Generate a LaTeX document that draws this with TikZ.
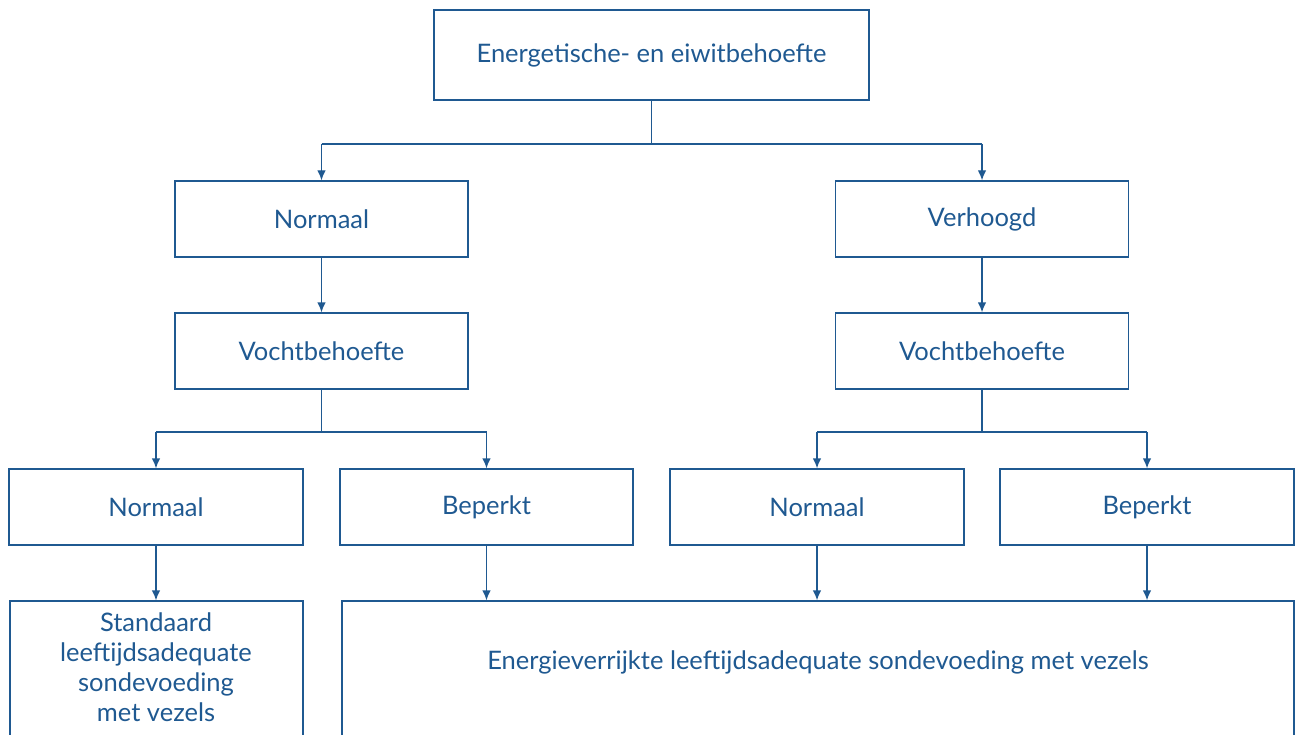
\documentclass[tikz,border=0pt]{standalone}
\usepackage{fontspec}
\setmainfont{Lato}
\usetikzlibrary{arrows.meta,positioning}
\definecolor{dblue}{RGB}{31,89,145}
\begin{document}
\begin{tikzpicture}[x=1pt,y=-1pt,
  box/.style={draw=dblue,line width=1.3pt,rectangle,inner sep=0pt,minimum width=293pt,minimum height=76pt,text=dblue,font=\fontsize{25.5}{30}\selectfont,align=center},
  txt/.style={text=dblue,font=\fontsize{25.5}{30}\selectfont,align=center,inner sep=0pt},
  conn/.style={draw=dblue,line width=1.3pt},
  arr/.style={conn,-{Latex[length=10pt,width=8.5pt]}}]
\useasboundingbox (0,0) rectangle (1295,735);
\node[box,minimum width=435pt,minimum height=90pt] (top) at (651.5,55) {Energetische- en eiwitbehoefte};
\node[box] (n1) at (321.5,219) {Normaal};
\node[box] (v1) at (982,219) {Verhoogd};
\node[box] (vl) at (321.5,351) {Vochtbehoefte};
\node[box] (vr) at (982,351) {Vochtbehoefte};
\node[box,minimum width=294pt] (a) at (156,507) {Normaal};
\node[box] (b) at (486.5,507) {Beperkt};
\node[box,minimum width=294pt] (c) at (817,507) {Normaal};
\node[box,minimum width=294pt] (d) at (1147,507) {Beperkt};
\node[box,minimum width=293pt,minimum height=160pt] (s) at (156.5,681) {};
\node[txt] (st) at (156,667) {Standaard\\leeftijdsadequate\\sondevoeding\\met vezels};
\node[box,minimum width=952pt,minimum height=160pt] (e) at (818,681) {};
\node[txt] (et) at (818,662) {Energieverrijkte leeftijdsadequate sondevoeding met vezels};
% connectors
\coordinate (t1) at (651.5,144);
\coordinate (tl) at (321.5,144);
\coordinate (tr) at (982,144);
\draw[conn] (top.south) -- (t1);
\draw[conn] (tl) -- (tr);
\draw[arr] (tl) -- (n1.north);
\draw[arr] (tr) -- (v1.north);
\draw[arr] (n1.south) -- (vl.north);
\draw[arr] (v1.south) -- (vr.north);
\coordinate (l1) at (321.5,432);
\coordinate (la) at (156,432);
\coordinate (lb) at (486.5,432);
\draw[conn] (vl.south) -- (l1);
\draw[conn] (la) -- (lb);
\draw[arr] (la) -- (a.north);
\draw[arr] (lb) -- (b.north);
\coordinate (r1) at (982,432);
\coordinate (rc) at (817,432);
\coordinate (rd) at (1147,432);
\draw[conn] (vr.south) -- (r1);
\draw[conn] (rc) -- (rd);
\draw[arr] (rc) -- (c.north);
\draw[arr] (rd) -- (d.north);
\draw[arr] (a.south) -- (a.south |- s.north);
\draw[arr] (b.south) -- (b.south |- e.north);
\draw[arr] (c.south) -- (c.south |- e.north);
\draw[arr] (d.south) -- (d.south |- e.north);
\end{tikzpicture}
\end{document}
